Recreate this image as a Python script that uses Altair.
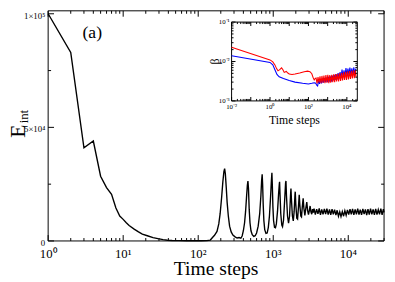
import altair as alt
import pandas as pd

# ---------------- main curve data ----------------
t_decay = [1, 2, 3, 4, 5, 6, 7, 8, 9, 10, 11, 12, 14, 16, 18, 21, 25, 29, 34, 39, 45, 55, 70, 90, 110, 130]
E_decay = [100000, 83000, 41000, 44000, 28500, 23500, 20500, 14500, 11000, 9500, 8000, 6800, 5200, 4000, 3000,
           2300, 1500, 1000, 600, 300, 200, 150, 100, 80, 100, 150]

t_osc = [145, 155, 165, 178, 188, 196, 205, 213, 220, 225, 230, 236, 243, 252, 262, 275, 290, 310, 330, 350,
         370, 385, 400, 415, 428, 440, 452, 460, 468, 478, 490, 505, 525, 550, 575, 600, 630, 660, 685, 700,
         712, 722, 735, 750, 770, 800, 830, 860, 890, 920, 945, 960, 972, 990, 1010, 1040, 1070, 1100, 1140,
         1180, 1205, 1215, 1230, 1260, 1300, 1330, 1370, 1420, 1460, 1478, 1500, 1550, 1600, 1650, 1700, 1722,
         1750, 1800, 1850, 1900, 1950, 1965, 2000, 2060, 2110, 2170, 2220, 2260, 2330, 2380, 2440, 2505, 2560,
         2640, 2720, 2800, 2870, 2950, 3030, 3100, 3180, 3260, 3340, 3420]
E_osc = [400, 1500, 2500, 4200, 7500, 12000, 19000, 26000, 30500, 31800, 29500, 24000, 17000, 11000, 6500,
         4000, 2600, 1800, 1300, 1500, 1200, 2200, 4500, 8000, 13000, 19000, 24500, 26400, 23000, 14000, 8000,
         4500, 2800, 2000, 2300, 3500, 6500, 12000, 20000, 26500, 29300, 25000, 16000, 9000, 5000, 3300, 3500,
         6000, 11000, 19000, 26500, 30000, 25000, 15000, 9000, 6000, 5800, 7500, 13000, 21000, 25000, 26000,
         21000, 12000, 7000, 6300, 9000, 18000, 25500, 26400, 20000, 11000, 7800, 11000, 20000, 23100, 18000,
         11000, 8800, 13000, 20500, 21700, 16000, 10000, 9600, 15000, 20300, 16000, 11000, 10600, 15000, 18800,
         14500, 11300, 14500, 17100, 13500, 11600, 13500, 15400, 12800, 11800, 14000, 12500]

t_plat = [3500, 3640, 3790, 3940, 4100, 4260, 4430, 4610, 4800, 4990, 5190, 5400, 5620, 5840, 6080, 6320,
          6570, 6840, 7110, 7400, 7700, 8000, 8330, 8660, 9010, 9370, 9750, 10140, 10550, 10970, 11410, 11870,
          12350, 12840, 13360, 13900, 14450, 15030, 15640, 16270, 16920, 17600, 18310, 19050, 19810, 20610,
          21440, 22300, 23200, 24130, 25100, 26110, 27160, 28250, 29390, 30000]
E_plat = [14200, 11600, 14000, 11900, 14300, 11500, 13900, 11700, 14100, 11800, 14200, 11600, 13900, 11500,
          14000, 11700, 13800, 11400, 13500, 10900, 12800, 10700, 12900, 10900, 13300, 11300, 13700, 11600,
          14000, 11700, 14100, 11500, 13900, 11700, 14200, 11600, 13800, 11500, 14100, 11800, 13900, 11400,
          14000, 11600, 14200, 11700, 13900, 11500, 14100, 11600, 13800, 11700, 14200, 11500, 14000, 12600]

# ---------------- inset data ----------------
t_red = [0.01, 1.0, 1.4, 1.8, 2.2, 2.6, 3.2, 4.0, 4.7, 5.5, 7.0, 8.5, 10, 14, 20, 35, 60, 90, 120, 150, 175,
         200, 225,
         250, 280, 315, 355, 400, 450, 505, 570, 640, 720, 810, 910, 1020, 1150, 1290, 1450, 1630, 1840, 2070,
         2320, 2610, 2940, 3300, 3720, 4180, 4700, 5290, 5950, 6700, 7530, 8470, 9530, 10700, 12100, 13600,
         15300, 17200, 19300, 21700, 24400, 27500, 30000]
b_red = [0.023, 0.011, 0.0098, 0.0082, 0.0066, 0.0058, 0.0062, 0.0069, 0.0062, 0.0053, 0.0056, 0.0051, 0.0048,
         0.0047, 0.0048, 0.0051, 0.0055, 0.0057, 0.0055, 0.0049, 0.0039, 0.0034, 0.0037,
         0.0038, 0.0028, 0.0040, 0.0029, 0.0042, 0.0028, 0.0043, 0.0029, 0.0044, 0.0028, 0.0045, 0.0029, 0.0046,
         0.0028, 0.0045, 0.0029, 0.0046, 0.0030, 0.0047, 0.0030, 0.0048, 0.0031, 0.0049, 0.0031, 0.0050, 0.0032,
         0.0051, 0.0033, 0.0053, 0.0034, 0.0055, 0.0034, 0.0056, 0.0035, 0.0057, 0.0036, 0.0058, 0.0037, 0.0060,
         0.0038, 0.0061, 0.0040]

t_blue = [0.01, 1.0, 1.4, 1.8, 2.3, 3, 5, 10, 20, 50, 100, 150, 200, 240, 270,
          300, 340, 380, 430, 480, 540, 600, 680, 760, 860, 960, 1080, 1220, 1370, 1540, 1730, 1950, 2190, 2460,
          2770, 3110, 3500, 3940, 4430, 4980, 5600, 6300, 7090, 7970, 8970, 10100, 11350, 12770, 14360, 16150,
          18170, 20440, 23000, 25870, 29100]
b_blue = [0.014, 0.0095, 0.0082, 0.0062, 0.0047, 0.0041, 0.0037, 0.0033, 0.0030, 0.0028, 0.0027, 0.0028,
          0.0029, 0.0028, 0.0025,
          0.0024, 0.0033, 0.0027, 0.0036, 0.0028, 0.0037, 0.0029, 0.0038, 0.0030, 0.0039, 0.0030, 0.0041, 0.0031,
          0.0042, 0.0031, 0.0044, 0.0033, 0.0046, 0.0034, 0.0048, 0.0035, 0.0051, 0.0037, 0.0054, 0.0039, 0.0062,
          0.0040, 0.0060, 0.0042, 0.0068, 0.0044, 0.0066, 0.0045, 0.0070, 0.0046, 0.0067, 0.0047, 0.0071, 0.0048,
          0.0066]

# ---------------- ticks and labels ----------------
x_major = [1, 10, 100, 1000, 10000]
x_minor = [2, 3, 4, 5, 6, 7, 8, 9, 20, 30, 40, 50, 60, 70, 80, 90, 200, 300, 400, 500, 600, 700, 800, 900,
           2000, 3000, 4000, 5000, 6000, 7000, 8000, 9000, 20000, 30000]
x_labels = ["10⁰", "10¹", "10²", "10³", "10⁴"]
y_major = [0, 50000, 100000]
y_minor = [25000, 75000]
y_labels = ["0", "5×10⁴", "1×10⁵"]

xi_major = [0.01, 0.1, 1, 10, 100, 1000, 10000]
xi_minor = [m * d for d in [0.01, 0.1, 1, 10, 100, 1000] for m in [2, 3, 4, 5, 6, 7, 8, 9]] + [20000, 30000]
xi_lab_vals = [0.01, 1, 100, 10000]
xi_labels = ["10⁻²", "10⁰", "10²", "10⁴"]
yi_major = [0.001, 0.01, 0.1]
yi_minor = [m * d for d in [0.001, 0.01] for m in [2, 3, 4, 5, 6, 7, 8, 9]]
yi_labels = ["10⁻³", "10⁻²", "10⁻¹"]

W, H = 343, 235
FONT = "Liberation Serif"

xs = alt.Scale(type="log", domain=[1, 30000], nice=False)
ys = alt.Scale(type="linear", domain=[0, 101300], nice=False, zero=False)

IX0, IX1 = 187.3, 315.7
IY0, IY1 = 92.0, 11.5
xi = alt.Scale(type="log", domain=[0.01, 35000], range=[IX0, IX1], nice=False)
yi = alt.Scale(type="log", domain=[0.001, 0.1], range=[IY0, IY1], nice=False)

one = pd.DataFrame({"a": [0]})

main_df = pd.DataFrame({"t": t_decay + t_osc + t_plat, "E": E_decay + E_osc + E_plat})
main_df["i"] = range(len(main_df))

frame = alt.Chart(one).mark_rect(fill="white", stroke="black", strokeWidth=1).encode(
    x=alt.value(0), x2=alt.value(W), y=alt.value(0), y2=alt.value(H))

curve = alt.Chart(main_df).mark_line(color="black", strokeWidth=1.4).encode(
    x=alt.X("t:Q", scale=xs, axis=None),
    y=alt.Y("E:Q", scale=ys, axis=None),
    order="i:Q")

def xt(vals, scale, y0, y1):
    return alt.Chart(pd.DataFrame({"v": vals})).mark_rule(color="black", strokeWidth=1).encode(
        x=alt.X("v:Q", scale=scale, axis=None), y=alt.value(y0), y2=alt.value(y1))

def yt(vals, scale, x0, x1):
    return alt.Chart(pd.DataFrame({"v": vals})).mark_rule(color="black", strokeWidth=1).encode(
        y=alt.Y("v:Q", scale=scale, axis=None), x=alt.value(x0), x2=alt.value(x1))

main_ticks = [
    xt(x_major, xs, H, H - 6), xt(x_minor, xs, H, H - 3),
    xt(x_major, xs, 0, 6), xt(x_minor, xs, 0, 3),
    yt(y_major, ys, 0, 6), yt(y_minor, ys, 0, 3),
    yt(y_major, ys, W, W - 6), yt(y_minor, ys, W, W - 3),
]

xlab = alt.Chart(pd.DataFrame({"v": x_major, "lab": x_labels})).mark_text(
    font=FONT, fontSize=13, baseline="middle", align="center", color="black").encode(
    x=alt.X("v:Q", scale=xs, axis=None), y=alt.value(H + 13), text="lab:N")

ylab = alt.Chart(pd.DataFrame({"v": y_major, "lab": y_labels})).mark_text(
    font=FONT, fontSize=9, baseline="middle", align="right", color="black", dy=2).encode(
    y=alt.Y("v:Q", scale=ys, axis=None), x=alt.value(-3), text="lab:N")

xtitle = alt.Chart(one).mark_text(text="Time steps", font=FONT, fontSize=20, baseline="alphabetic",
                                   align="center", color="black").encode(
    x=alt.value(W / 2), y=alt.value(H + 35))
ytitle_E = alt.Chart(one).mark_text(text="E", font=FONT, fontSize=22, baseline="alphabetic",
                                     align="center", angle=270, color="black").encode(
    x=alt.value(-24), y=alt.value(123))
ytitle_sub = alt.Chart(one).mark_text(text="int", font=FONT, fontSize=13, baseline="alphabetic",
                                       align="center", angle=270, color="black").encode(
    x=alt.value(-21), y=alt.value(108))
panel = alt.Chart(one).mark_text(text="(a)", font=FONT, fontSize=18, baseline="alphabetic",
                                  align="center", color="black").encode(
    x=alt.value(45), y=alt.value(28))

main = alt.layer(frame, curve, *main_ticks, xlab, ylab, xtitle, ytitle_E, ytitle_sub, panel)

# ---------------- inset ----------------
iframe_df = pd.DataFrame({"x0": [0.01], "x1": [35000], "y0": [0.001], "y1": [0.1]})
iframe = alt.Chart(iframe_df).mark_rect(fill="white", stroke="black", strokeWidth=1).encode(
    x=alt.X("x0:Q", scale=xi, axis=None), x2="x1:Q",
    y=alt.Y("y0:Q", scale=yi, axis=None), y2="y1:Q")

blue_df = pd.DataFrame({"t": t_blue, "b": b_blue})
blue_df["i"] = range(len(blue_df))
red_df = pd.DataFrame({"t": t_red, "b": b_red})
red_df["i"] = range(len(red_df))

iblue = alt.Chart(blue_df).mark_line(color="#0000ff", strokeWidth=1.1).encode(
    x=alt.X("t:Q", scale=xi, axis=None), y=alt.Y("b:Q", scale=yi, axis=None), order="i:Q")
ired = alt.Chart(red_df).mark_line(color="#ff0000", strokeWidth=1.1).encode(
    x=alt.X("t:Q", scale=xi, axis=None), y=alt.Y("b:Q", scale=yi, axis=None), order="i:Q")

inset_ticks = [
    xt(xi_major, xi, IY0, IY0 - 4), xt(xi_minor, xi, IY0, IY0 - 2),
    xt(xi_major, xi, IY1, IY1 + 4), xt(xi_minor, xi, IY1, IY1 + 2),
    yt(yi_major, yi, IX0, IX0 + 4), yt(yi_minor, yi, IX0, IX0 + 2),
    yt(yi_major, yi, IX1, IX1 - 4), yt(yi_minor, yi, IX1, IX1 - 2),
]

xilab = alt.Chart(pd.DataFrame({"v": xi_lab_vals, "lab": xi_labels})).mark_text(
    font=FONT, fontSize=7, baseline="middle", align="center", color="black").encode(
    x=alt.X("v:Q", scale=xi, axis=None), y=alt.value(IY0 + 6), text="lab:N")
yilab = alt.Chart(pd.DataFrame({"v": yi_major, "lab": yi_labels})).mark_text(
    font=FONT, fontSize=7, baseline="middle", align="right", color="black").encode(
    y=alt.Y("v:Q", scale=yi, axis=None), x=alt.value(IX0 - 2), text="lab:N")
xititle = alt.Chart(one).mark_text(text="Time steps", font=FONT, fontSize=12, baseline="middle",
                                    align="center", color="black").encode(
    x=alt.value((IX0 + IX1) / 2), y=alt.value(IY0 + 20))
yititle = alt.Chart(one).mark_text(text="β", font=FONT, fontSize=12, baseline="middle",
                                    align="center", angle=270, color="black").encode(
    x=alt.value(IX0 - 17), y=alt.value((IY0 + IY1) / 2))

inset = alt.layer(iframe, iblue, ired, *inset_ticks, xilab, yilab, xititle, yititle)

chart = alt.layer(main, inset).resolve_scale(x="independent", y="independent").properties(
    width=W, height=H,
    autosize=alt.AutoSizeParams(type="none"),
    padding={"left": 41, "top": 0, "right": 3, "bottom": 38},
).configure_view(stroke=None)

chart.save("out.html", embed_options={"renderer": "svg", "actions": False})
